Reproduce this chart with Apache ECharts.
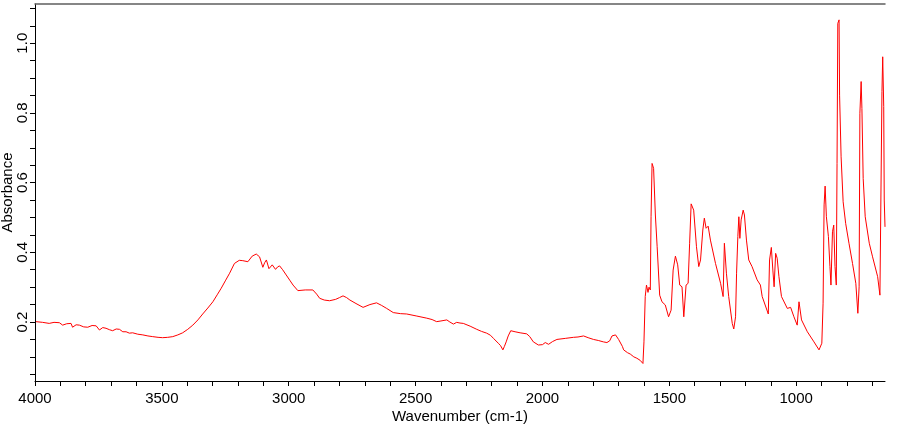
<!DOCTYPE html>
<html>
<head>
<meta charset="utf-8">
<script src="https://cdn.jsdelivr.net/npm/echarts@6/dist/echarts.min.js"></script>
<style>html,body{margin:0;padding:0;background:#fff}#chart{width:900px;height:425px}</style>
</head>
<body>
<div id="chart"></div>
<script>
// Wavenumbers (cm-1)
const wavenumbers = [
3996,3970,3944,3925,3904,3891,3875,3858,3852,3838,3825,3808,3792,3775,3759,3746,3733,3720,3707,3694,
3680,3667,3654,3641,3628,3615,3595,3575,3555,3536,3515,3497,3477,3457,3437,3418,3398,3378,3358,3339,
3319,3299,3282,3266,3250,3233,3214,3195,3181,3161,3144,3128,3115,3102,3095,3088,3078,3065,3052,3044,
3036,3024,3010,2996,2983,2964,2935,2905,2890,2878,2860,2839,2815,2800,2786,2772,2759,2735,2707,2680,
2654,2635,2614,2588,2560,2535,2495,2456,2435,2417,2400,2377,2365,2351,2338,2325,2312,2285,2259,2240,
2220,2205,2193,2174,2165,2156,2150,2143,2135,2125,2108,2088,2062,2050,2036,2016,2000,1989,1982,1976,
1960,1943,1910,1878,1860,1838,1820,1799,1780,1760,1746,1735,1726,1720,1712,1700,1693,1685,1680,1665,
1654,1640,1628,1615,1604,1600,1595,1590,1584,1580,1575,1572,1568,1562,1555,1548,1538,1529,1516,1503,
1493,1485,1476,1467,1459,1450,1443,1434,1426,1420,1414,1404,1393,1384,1377,1368,1362,1355,1347,1338,
1318,1298,1288,1283,1275,1266,1252,1246,1239,1235,1230,1226,1222,1217,1209,1204,1196,1187,1174,1154,
1141,1134,1110,1105,1098,1092,1087,1081,1075,1068,1058,1035,1022,1009,996,989,985,979,956,930,
910,899,894,890,886,881,873,867,863,857,852,847,842,839,836,831,829,823,815,805,
792,778,765,757,752,749,744,741,736,728,712,699,679,670,665,662,659,655,653,650
];
// Absorbance values
const absorbance = [
0.201,0.199,0.196,0.199,0.198,0.191,0.195,0.196,0.185,0.192,0.191,0.186,0.185,0.190,0.189,0.177,0.184,0.182,0.178,0.175,
0.180,0.179,0.172,0.172,0.168,0.169,0.165,0.163,0.160,0.158,0.156,0.155,0.156,0.158,0.163,0.169,0.179,0.191,0.206,0.223,
0.240,0.258,0.278,0.297,0.318,0.340,0.368,0.377,0.376,0.373,0.389,0.395,0.387,0.357,0.370,0.378,0.353,0.364,0.351,0.358,
0.361,0.350,0.335,0.320,0.306,0.290,0.292,0.292,0.280,0.268,0.263,0.261,0.265,0.270,0.275,0.270,0.263,0.253,0.242,0.250,
0.255,0.248,0.239,0.227,0.224,0.223,0.217,0.211,0.207,0.201,0.203,0.206,0.200,0.194,0.199,0.197,0.196,0.188,0.179,0.173,
0.168,0.162,0.153,0.139,0.132,0.120,0.130,0.143,0.160,0.175,0.172,0.169,0.166,0.158,0.143,0.134,0.135,0.141,0.137,0.136,
0.144,0.150,0.153,0.156,0.157,0.160,0.155,0.150,0.147,0.143,0.141,0.146,0.160,0.158,0.163,0.150,0.150,0.130,0.120,0.112,
0.108,0.100,0.096,0.090,0.081,0.143,0.273,0.306,0.285,0.300,0.292,0.502,0.655,0.641,0.507,0.416,0.277,0.258,0.249,0.215,
0.234,0.349,0.389,0.364,0.306,0.301,0.215,0.306,0.311,0.426,0.539,0.521,0.416,0.359,0.378,0.464,0.498,0.469,0.475,0.435,
0.368,0.311,0.273,0.426,0.340,0.273,0.196,0.180,0.215,0.340,0.445,0.502,0.440,0.493,0.521,0.507,0.435,0.378,0.359,0.321,
0.306,0.273,0.223,0.378,0.414,0.349,0.301,0.397,0.383,0.330,0.273,0.239,0.242,0.215,0.191,0.258,0.254,0.206,0.172,0.143,
0.120,0.139,0.254,0.536,0.590,0.502,0.445,0.359,0.306,0.459,0.478,0.359,0.306,0.655,1.057,1.067,0.851,0.674,0.545,0.483,
0.426,0.368,0.311,0.225,0.301,0.799,0.890,0.813,0.612,0.502,0.426,0.387,0.330,0.277,0.273,0.861,0.961,0.818,0.550,0.473
];
// Tick positions and labels
const xTickValues = [700,800,900,1000,1100,1200,1300,1400,1500,1600,1700,1800,1900,2000,2100,2200,2300,2400,2500,2600,2700,2800,2900,3000,3100,3200,3300,3400,3500,3600,3700,3800,3900,4000];
const xLabelValues = [1000,1500,2000,2500,3000,3500,4000];
const yTickValues = [0.05,0.1,0.15,0.2,0.25,0.3,0.35,0.4,0.45,0.5,0.55,0.6,0.65,0.7,0.75,0.8,0.85,0.9,0.95,1.0,1.05,1.1];
const yLabelValues = [0.2,0.4,0.6,0.8,1.0];

const seriesData = wavenumbers.map((w, i) => [w, absorbance[i]]);
const FONT = 'Liberation Sans, Arial, sans-serif';

const chart = echarts.init(document.getElementById('chart'), null, {renderer: 'canvas'});
chart.setOption({
  animation: false,
  backgroundColor: '#fff',
  grid: {left: 35, right: 15, top: 4, bottom: 44, containLabel: false, outerBoundsMode: 'none'},
  xAxis: [{
    type: 'value', min: 650, max: 4000, inverse: true, position: 'bottom',
    name: 'Wavenumber (cm-1)', nameLocation: 'middle', nameGap: 28, nameMoveOverlap: false,
    nameTextStyle: {fontFamily: FONT, fontSize: 15, color: '#000'},
    axisLine: {show: true, onZero: false, lineStyle: {color: '#000', width: 1}},
    axisTick: {show: true, inside: false, length: 5, customValues: xTickValues, lineStyle: {color: '#000'}},
    axisLabel: {customValues: xLabelValues, fontFamily: FONT, fontSize: 15, color: '#000', margin: 10,
      formatter: v => String(v)},
    splitLine: {show: false}
  }, {
    type: 'value', min: 650, max: 4000, inverse: true, position: 'top',
    axisLine: {show: true, onZero: false, lineStyle: {color: '#5f5f5f', width: 1.5}},
    axisTick: {show: false}, axisLabel: {show: false}, splitLine: {show: false}
  }],
  yAxis: {
    type: 'value', min: 0.0307, max: 1.1125,
    name: 'Absorbance', nameLocation: 'middle', nameGap: 20, nameMoveOverlap: false,
    nameTextStyle: {fontFamily: FONT, fontSize: 15, color: '#000'},
    axisLine: {show: true, onZero: false, lineStyle: {color: '#000', width: 1}},
    axisTick: {show: true, inside: false, length: 5, customValues: yTickValues, lineStyle: {color: '#000'}},
    axisLabel: {customValues: yLabelValues, rotate: 90, fontFamily: FONT, fontSize: 15, color: '#000', margin: 5,
      formatter: v => v.toFixed(1)},
    splitLine: {show: false}
  },
  series: [{
    type: 'line', xAxisIndex: 0, data: seriesData, showSymbol: false, symbol: 'none',
    lineStyle: {color: '#ff0000', width: 1}, itemStyle: {color: '#ff0000'}
  }]
});
</script>
</body>
</html>
